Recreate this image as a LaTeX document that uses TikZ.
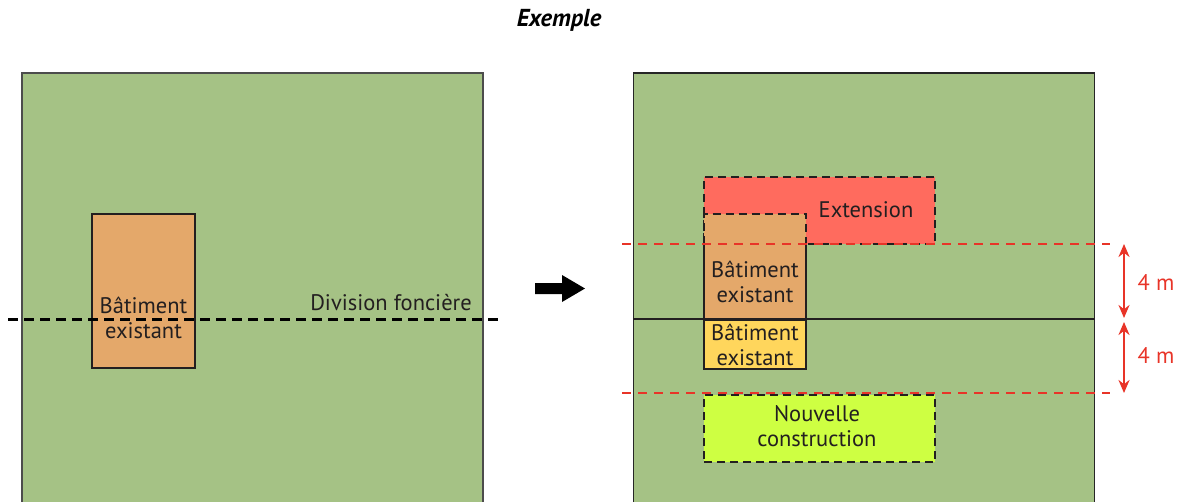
\documentclass[tikz,border=0pt]{standalone}
\usepackage{fontspec}
\setmainfont{PT Sans}
\usetikzlibrary{positioning,arrows.meta}
\definecolor{parcelgreen}{RGB}{165,194,133}
\definecolor{batorange}{RGB}{228,168,106}
\definecolor{extred}{RGB}{255,107,94}
\definecolor{batyellow}{RGB}{255,214,92}
\definecolor{newlime}{RGB}{206,255,66}
\definecolor{limitred}{RGB}{232,52,40}
\definecolor{inkblack}{RGB}{35,31,32}
\newcommand{\plantext}{\fontsize{22.5}{25}\selectfont}

\begin{document}
\begin{tikzpicture}[x=1pt, y=-1pt,
    parcel/.style={rectangle, fill=parcelgreen, draw=black!70, line width=1.3pt, inner sep=0pt, minimum width=461pt, minimum height=440pt},
    bldg/.style={rectangle, draw=inkblack, line width=2pt, inner sep=0pt},
    projet/.style={rectangle, draw=inkblack, line width=2pt, dash pattern=on 8pt off 5pt, inner sep=0pt, minimum width=231pt, minimum height=67pt},
    label/.style={inner sep=0pt, align=center, text=inkblack, font=\plantext},
    limite/.style={limitred, line width=1.5pt, dash pattern=on 9pt off 7pt},
    cote/.style={limitred, line width=2.8pt, {Stealth[length=13pt,width=11pt]}-{Stealth[length=13pt,width=11pt]}}]
  \useasboundingbox (0,0) rectangle (1182,501);
  % title
  \node [inner sep=0pt, text=black, font=\fontsize{24.5}{27}\selectfont\bfseries\itshape] (TITLE) at (559,20) {Exemple};
  % before
  \node [parcel] (LOT1) at (252.5,293) {};
  \node [bldg, fill=batorange, minimum width=103pt, minimum height=154pt] (BAT1) at (143.5,291) {};
  \node [label] (BAT1TXT) at (143.5,318) {Bâtiment\\existant};
  \coordinate (DIVW) at (8,319);
  \coordinate (DIVE) at (500,319);
  \draw [line width=3pt, dash pattern=on 10pt off 6pt] (DIVW) -- (DIVE);
  \node [label] (DIVTXT) at (391,303) {Division foncière};
  % transition arrow
  \coordinate (ARR) at (535,288);
  \fill (ARR) ++(0,-5) -- ++(27,0) -- ++(0,-8) -- ++(23,13.5) -- ++(-23,13.5) -- ++(0,-8) -- ++(-27,0) -- cycle;
  % after
  \node [parcel, draw=black!85] (LOT2) at (864,293) {};
  \node [projet, fill=extred] (EXT) at (819.5,210.5) {};
  \node [label] (EXTTXT) at (866,210) {Extension};
  \coordinate (LIM1W) at (622,244);
  \coordinate (LIM1E) at (1110,244);
  \coordinate (LIM2W) at (622,393);
  \coordinate (LIM2E) at (1110,393);
  \node [rectangle, fill=batorange, inner sep=0pt, minimum width=102pt, minimum height=106pt] (BAT2) at (755,267) {};
  \draw [inkblack, line width=2pt, dash pattern=on 8pt off 5pt] (BAT2.west |- LIM1W) |- (BAT2.north east) -- (BAT2.east |- LIM1W);
  \draw [inkblack, line width=2pt] (BAT2.west |- LIM1W) |- (BAT2.south east) -- (BAT2.east |- LIM1W);
  \node [label] (BAT2TXT) at (755,282) {Bâtiment\\existant};
  \node [bldg, fill=batyellow, minimum width=102pt, minimum height=49pt, label] (BAT3) at (755,344.5) {Bâtiment\\existant};
  \draw [inkblack, line width=1.6pt] (LOT2.west |- BAT3.north) -- (LOT2.east |- BAT3.north);
  \node [projet, fill=newlime] (NEW) at (819.5,428.5) {};
  \node [label] (NEWTXT) at (817,426) {Nouvelle\\construction};
  \draw [limite] (LIM1W) -- (LIM1E);
  \draw [limite] (LIM2W) -- (LIM2E);
  % distances
  \coordinate (C1) at (1124,244);
  \coordinate (C2) at (1124,318);
  \coordinate (C3) at (1124,322);
  \coordinate (C4) at (1124,393);
  \draw [cote] (C1) -- (C2);
  \draw [cote] (C3) -- (C4);
  \node [label, text=limitred] (D1) at (1156,282) {4 m};
  \node [label, text=limitred] (D2) at (1156,355) {4 m};
\end{tikzpicture}
\end{document}
